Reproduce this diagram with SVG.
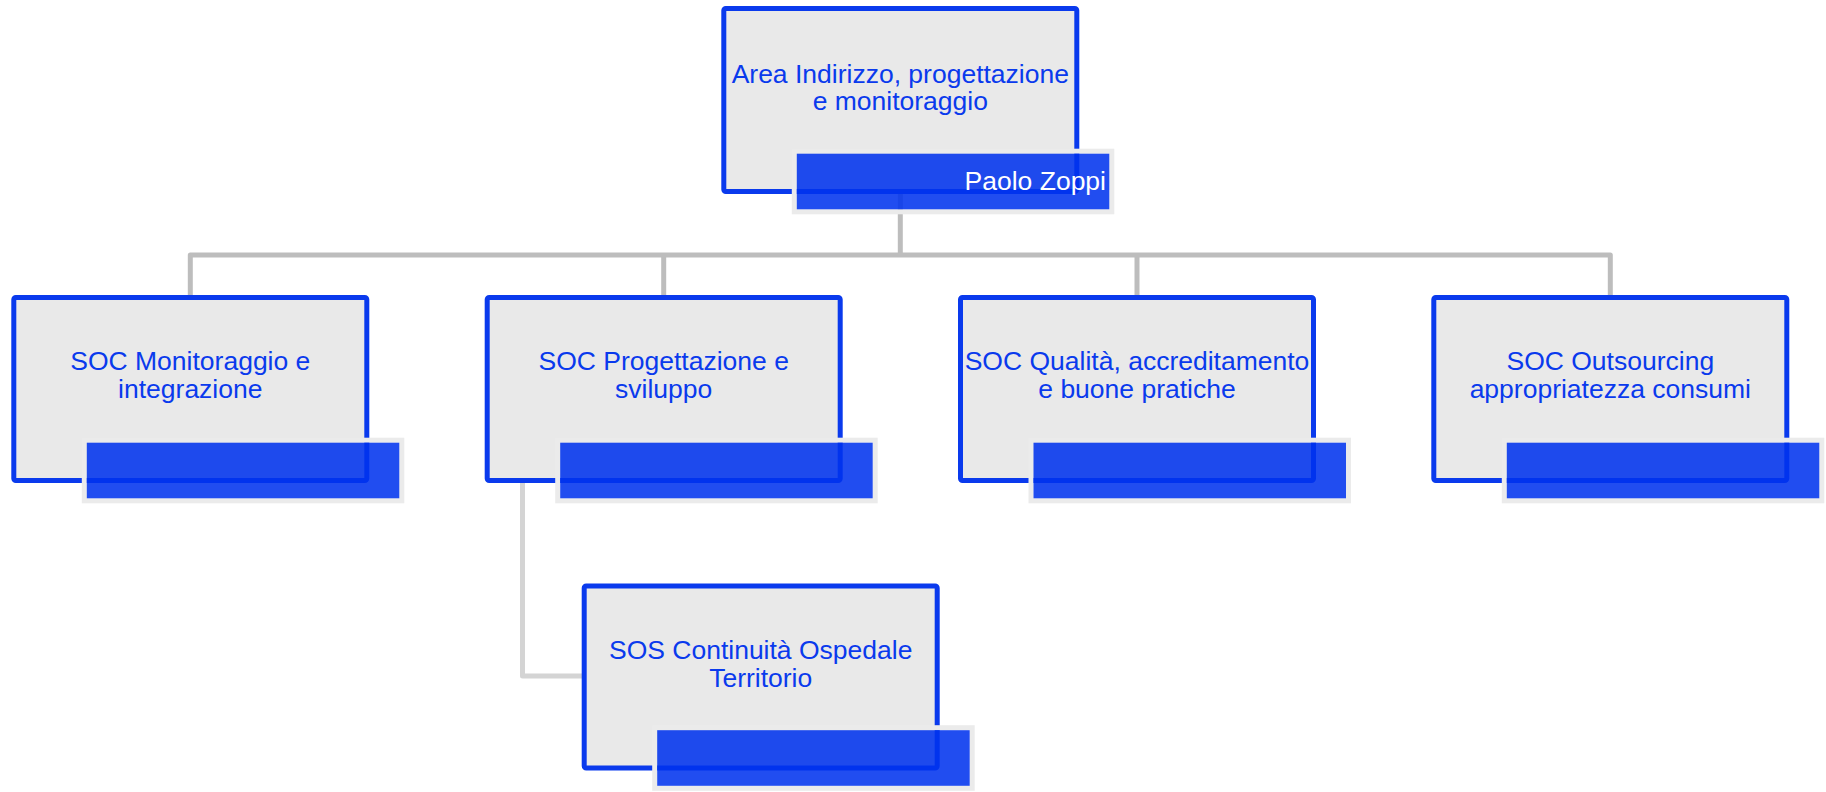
<svg xmlns="http://www.w3.org/2000/svg" width="1826" height="792" viewBox="0 0 1826 792">
<style>
.box{fill:#e9e9e9;stroke:#0a3aed;stroke-width:5}
.frame{fill:none;stroke:#ebebeb;stroke-width:5}
.bar{fill:#0033ee;fill-opacity:0.87}
.t{font-family:"Liberation Sans",Arial,sans-serif;font-size:26.5px;fill:#0a3aed;text-anchor:middle}
.n{font-family:"Liberation Sans",Arial,sans-serif;font-size:26.5px;fill:#ffffff;text-anchor:end}
.c{fill:none;stroke:#bdbdbd;stroke-width:5;stroke-linejoin:round}
.c2{fill:none;stroke:#d4d4d4;stroke-width:5;stroke-linejoin:round}
</style>
<rect width="1826" height="792" fill="#ffffff"/>
<g id="connectors">
<path class="c" d="M190.3 297.5V255H1610.3V297.5M900.3 191.5V255M663.7 255V297.5M1137 255V297.5"/>
<path class="c2" d="M522.5 482.5V676H584.2"/>
</g>
<g id="node-area">
<rect class="box" x="723.8" y="8.5" width="353" height="183" rx="2"/>
<text class="t" x="900.3" y="82.5">Area Indirizzo, progettazione</text>
<text class="t" x="900.3" y="110">e monitoraggio</text>
<rect class="frame" x="794.3" y="151.2" width="317.5" height="60.6"/>
<rect class="bar" x="796.8" y="153.7" width="312.5" height="55.6"/>
<text class="n" x="1106" y="190">Paolo Zoppi</text>
</g>
<g id="node-monitoraggio">
<rect class="box" x="13.8" y="297.5" width="353" height="183" rx="2"/>
<text class="t" x="190.3" y="370">SOC Monitoraggio e</text>
<text class="t" x="190.3" y="397.7">integrazione</text>
<rect class="frame" x="84.3" y="440.2" width="317.5" height="60.6"/>
<rect class="bar" x="86.8" y="442.7" width="312.5" height="55.6"/>
</g>
<g id="node-progettazione">
<rect class="box" x="487.2" y="297.5" width="353" height="183" rx="2"/>
<text class="t" x="663.7" y="370">SOC Progettazione e</text>
<text class="t" x="663.7" y="397.7">sviluppo</text>
<rect class="frame" x="557.7" y="440.2" width="317.5" height="60.6"/>
<rect class="bar" x="560.2" y="442.7" width="312.5" height="55.6"/>
</g>
<g id="node-qualita">
<rect class="box" x="960.5" y="297.5" width="353" height="183" rx="2"/>
<text class="t" x="1137" y="370">SOC Qualità, accreditamento</text>
<text class="t" x="1137" y="397.7">e buone pratiche</text>
<rect class="frame" x="1031" y="440.2" width="317.5" height="60.6"/>
<rect class="bar" x="1033.5" y="442.7" width="312.5" height="55.6"/>
</g>
<g id="node-outsourcing">
<rect class="box" x="1433.8" y="297.5" width="353" height="183" rx="2"/>
<text class="t" x="1610.3" y="370">SOC Outsourcing</text>
<text class="t" x="1610.3" y="397.7">appropriatezza consumi</text>
<rect class="frame" x="1504.3" y="440.2" width="317.5" height="60.6"/>
<rect class="bar" x="1506.8" y="442.7" width="312.5" height="55.6"/>
</g>
<g id="node-continuita">
<rect class="box" x="584.2" y="586" width="353" height="182" rx="2"/>
<text class="t" x="760.7" y="659">SOS Continuità Ospedale</text>
<text class="t" x="760.7" y="686.7">Territorio</text>
<rect class="frame" x="654.7" y="727.7" width="317.5" height="60.6"/>
<rect class="bar" x="657.2" y="730.2" width="312.5" height="55.6"/>
</g>
</svg>
